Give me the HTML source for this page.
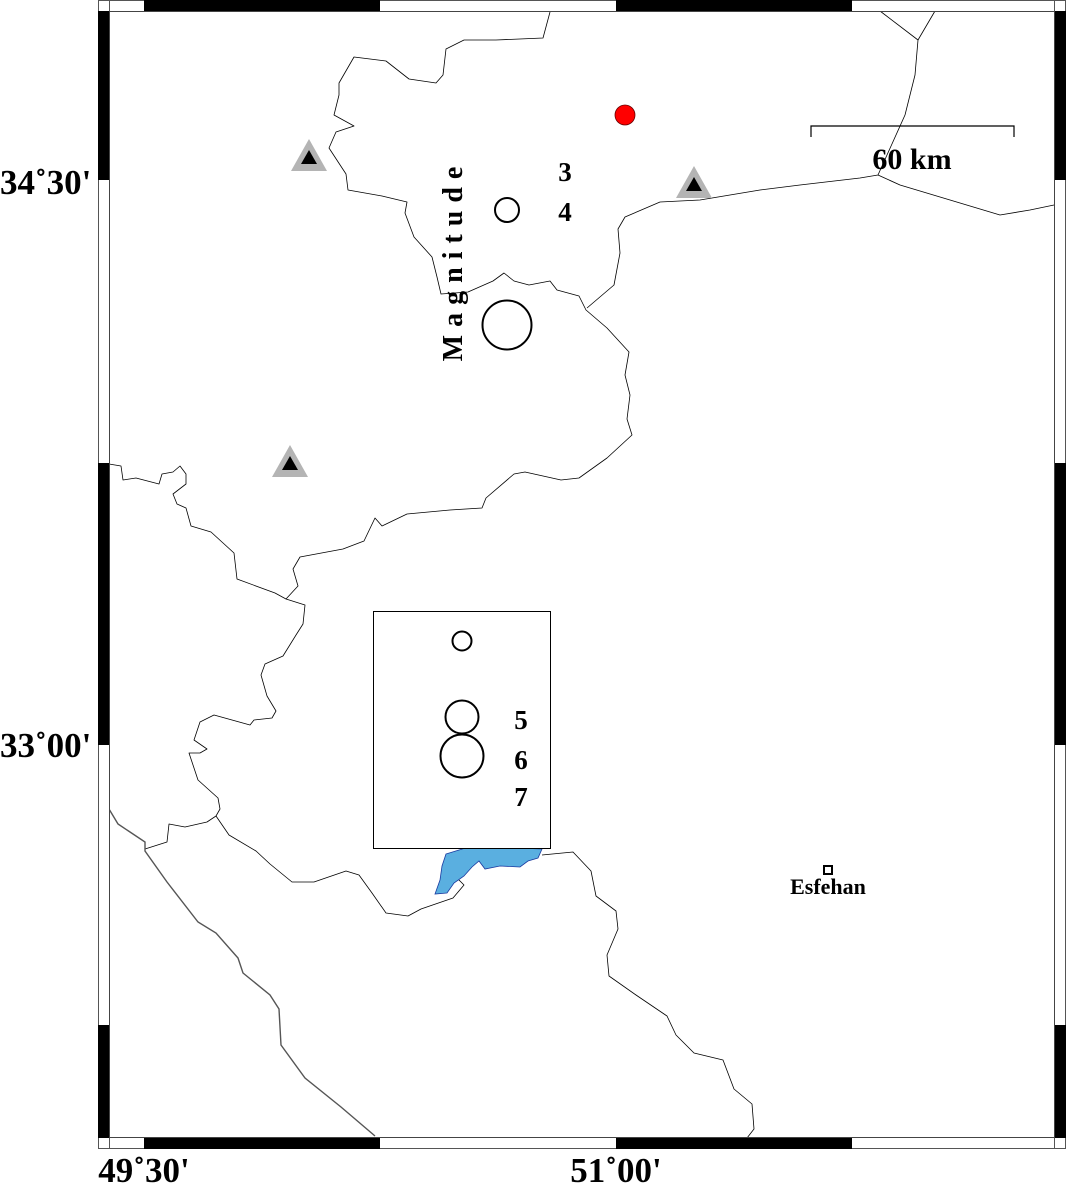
<!DOCTYPE html>
<html><head><meta charset="utf-8"><style>
html,body{margin:0;padding:0;background:#fff;}
svg{display:block;}
text{font-family:"Liberation Serif",serif;font-weight:bold;fill:#000;}
</style></head><body>
<svg width="1066" height="1187" viewBox="0 0 1066 1187" xmlns="http://www.w3.org/2000/svg">
<rect width="1066" height="1187" fill="#fff"/>
<g fill="none" stroke="#000" stroke-width="0.8" stroke-linejoin="round">
<polyline points="550,12 543,38 496,40 464,40 446,49 443,75 436,83 409,79 386,61 354,57 339,83 339,95 334,115 354,126 336,132 329,148 346,174 348,190 382,196 407,202 405,213 414,237 432,257 437,277 441,294 468,292 493,281 504,273 514,281 529,285 550,281 557,290 579,296 586,310 607,328 629,352 625,375 630,395 627,419 632,435 607,458 579,478 561,480 525,472 514,474 486,498 482,508 450,510 407,514 382,526 375,518 364,541 343,549 300,557 293,569 298,586 286,599 305,605 303,624 296,635 283,656 265,664 261,675 267,696 276,711 272,718 254,720 250,725 214,715 200,722 194,740 207,749 200,753 189,753 198,780 218,798 220,809 216,816 207,822 185,827 169,824 167,842 145,849"/>
<polyline points="109,464 121,466 123,480 136,478 159,484 162,474 173,472 180,466 186,474 186,484 173,494 177,504 186,508 191,526 211,532 234,553 237,579 275,593 286,599"/>
<polyline points="587,308 614,285 620,253 618,229 625,217 660,202 700,200 760,190 800,185 860,178 878,175 900,185 950,200 1000,215 1030,210 1054,205"/>
<polyline points="878,175 905,115 915,75 918,40 935,11"/>
<polyline points="880,11 918,40"/>
<polyline points="216,816 229,835 256,851 270,864 292,882 314,882 346,871 359,875 372,893 386,913 408,916 421,909 453,898 464,885 457,878"/>
<polyline points="542,855 573,852 591,871 596,896 616,911 618,929 607,955 609,976 636,995 667,1016 676,1035 694,1053 723,1060 734,1089 752,1104 754,1129 747,1138"/>
</g>
<g fill="none" stroke="#555" stroke-width="1.4">
<polyline points="109,809 118,824 145,842 145,851 167,882 198,922 216,933 238,958 243,973 270,995 279,1009 281,1045 305,1078 341,1107 375,1136"/>
</g>
<polygon points="446,854 472,846 542,849 538,858 528,861 520,867 500,866 485,869 479,861 472,867 464,876 454,883 447,893 435,894 440,880 442,866" fill="#5aafe0" stroke="#1a3aa0" stroke-width="0.8"/>
<rect x="373.5" y="611.5" width="177" height="237" fill="#fff" stroke="#000" stroke-width="1"/>
<g fill="none" stroke="#000" stroke-width="2">
<circle cx="462" cy="641" r="9.5"/>
<circle cx="462" cy="717" r="16.5"/>
<circle cx="462" cy="756" r="21.5"/>
<circle cx="507" cy="210" r="12"/>
<circle cx="507" cy="325" r="24.5"/>
</g>
<g font-size="27">
<text x="521" y="729" text-anchor="middle">5</text>
<text x="521" y="769" text-anchor="middle">6</text>
<text x="521" y="806" text-anchor="middle">7</text>
<text x="565" y="181" text-anchor="middle">3</text>
<text x="565" y="221" text-anchor="middle">4</text>
</g>
<text transform="translate(462,260) rotate(-90)" font-size="28" text-anchor="middle" letter-spacing="8">Magnitude</text>
<circle cx="625" cy="115" r="10" fill="#f00" stroke="#600" stroke-width="0.8"/>
<g>
<polygon points="309,139 291,171 327,171" fill="#b4b4b4"/><polygon points="309,150 301,164 317,164" fill="#000"/>
<polygon points="694,166 676,198 712,198" fill="#b4b4b4"/><polygon points="694,177 686,191 702,191" fill="#000"/>
<polygon points="290,445 272,477 308,477" fill="#b4b4b4"/><polygon points="290,456 282,470 298,470" fill="#000"/>
</g>
<polyline points="811,137 811,126 1014,126 1014,137" fill="none" stroke="#000" stroke-width="1.2"/>
<text x="912" y="169" font-size="30" text-anchor="middle">60 km</text>
<rect x="824" y="866" width="8" height="8" fill="#fff" stroke="#000" stroke-width="2"/>
<text x="828" y="894" font-size="22" text-anchor="middle">Esfehan</text>
<g stroke="#555" stroke-width="1">
<rect x="98.5" y="0.5" width="967" height="11" fill="#fff"/>
<rect x="98.5" y="1137.5" width="967" height="11" fill="#fff"/>
<rect x="98.5" y="0.5" width="11" height="1148" fill="#fff"/>
<rect x="1054.5" y="0.5" width="11" height="1148" fill="#fff"/>
</g>
<g fill="#000">
<rect x="144" y="0" width="236" height="11"/><rect x="616" y="0" width="236" height="11"/>
<rect x="144" y="1138" width="236" height="11"/><rect x="616" y="1138" width="236" height="11"/>
<rect x="98" y="11" width="11" height="169"/><rect x="98" y="463" width="11" height="282"/><rect x="98" y="1025" width="11" height="113"/>
<rect x="1055" y="11" width="11" height="169"/><rect x="1055" y="463" width="11" height="282"/><rect x="1055" y="1025" width="11" height="113"/>
</g>
<rect x="109.5" y="11.5" width="945" height="1126" fill="none" stroke="#444" stroke-width="1"/>
<g font-size="35">
<text x="0" y="194">34˚30'</text>
<text x="0" y="757">33˚00'</text>
<text x="144" y="1182" text-anchor="middle">49˚30'</text>
<text x="616" y="1182" text-anchor="middle">51˚00'</text>
</g>
</svg>
</body></html>
